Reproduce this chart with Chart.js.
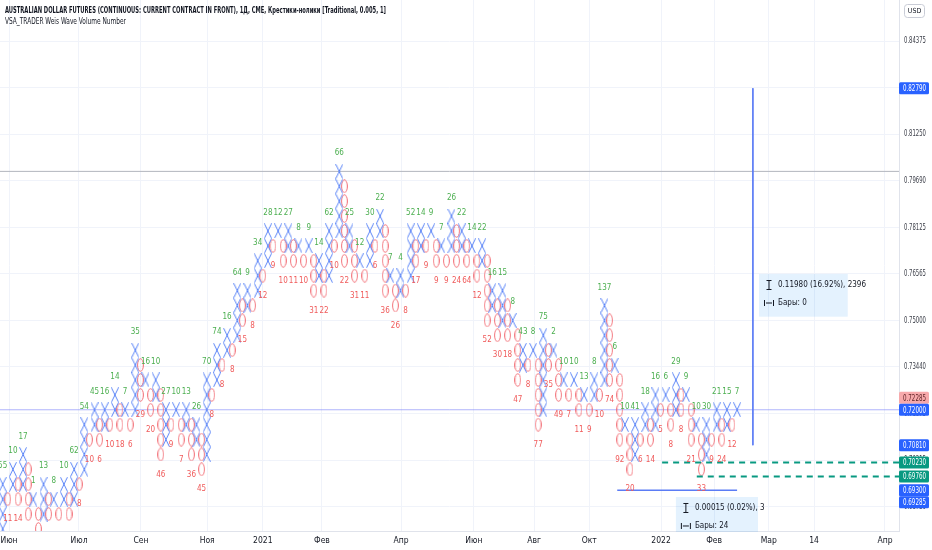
<!DOCTYPE html>
<html>
<head>
<meta charset="utf-8">
<script src="https://cdn.jsdelivr.net/npm/chart.js@4.4.1/dist/chart.umd.min.js"></script>
<style>
  html, body { margin: 0; padding: 0; background: #fff; }
  #wrap { width: 932px; height: 550px; position: relative; }
</style>
</head>
<body>
<div id="wrap"><canvas id="pnf" width="932" height="550"></canvas></div>
<script>
// POINT & FIGURE DATA (box = 0.005, reversal 1)
const BOX = 0.005;
const FIRST_START = 134; // first X column rises from below the visible range
// column extremes in boxes: X tops / O bottoms, alternating, starting with X
const COLUMN_EXTREMES = [
  139, 138, 140, 138, 141, 137, 138, 136, 139, 137,
  138, 137, 139, 137, 140, 139, 143, 142, 144, 142,
  144, 143, 145, 143, 144, 143, 148, 145, 146, 144,
  146, 141, 144, 143, 144, 142, 144, 141, 143, 140,
  146, 145, 148, 147, 149, 148, 152, 150, 152, 151,
  154, 153, 156, 155, 156, 154, 156, 154, 155, 154,
  155, 152, 154, 152, 156, 155, 160, 154, 156, 153,
  154, 153, 156, 155, 157, 152, 153, 151, 153, 152,
  156, 154, 156, 155, 156, 154, 155, 154, 157, 154,
  156, 154, 155, 153, 155, 150, 152, 149, 152, 149,
  150, 146, 148, 147, 148, 143, 149, 147, 148, 145,
  146, 145, 146, 144, 145, 144, 146, 145, 151, 146,
  147, 142, 143, 140, 143, 142, 144, 142, 145, 144,
  145, 143, 146, 144, 145, 142, 143, 140, 143, 142,
  144, 142, 144, 143, 144
];
// Weis wave volume numbers per column (null = below the visible range)
const COLUMN_VOLUMES = [
  55, 11, 10, 14, 17, null, 1, null, 13, null,
  8, null, 10, null, 62, 8, 54, 10, 45, 6,
  16, 10, 14, 18, 7, 6, 35, 29, 16, 20,
  10, 46, 27, 9, 10, 7, 13, 36, 26, 45,
  70, 8, 74, 8, 16, 8, 64, 15, 9, 8,
  34, 12, 28, 9, 12, 10, 27, 11, 8, 10,
  9, 31, 14, 22, 62, 10, 66, 22, 25, 31,
  12, 11, 30, 6, 22, 36, 7, 26, 4, 8,
  52, 17, 14, 9, 9, 9, 7, 9, 26, 24,
  22, 64, 14, 12, 22, 52, 16, 30, 15, 18,
  8, 47, 43, 8, 8, 77, 75, 35, 2, 49,
  10, 7, 10, 11, 13, 9, 8, 10, 137, 74,
  6, 92, 10, 20, 41, 6, 18, 14, 16, 5,
  6, 8, 29, 8, 9, 21, 10, 33, 30, 9,
  21, 24, 15, 12, 7
];
// time axis (positions in column units)
const TIME_TICKS = [1.24, 14.96, 27.1, 40.1, 51.0, 62.6, 78.1, 92.4, 104.2, 115.0, 129.1, 139.5, 150.2, 159.1, 173.0];
const TIME_LABELS = ["Июн", "Июл", "Сен", "Ноя", "2021", "Фев", "Апр", "Июн", "Авг", "Окт", "2022", "Фев", "Мар", "14", "Апр"];
// price axis
const PRICE_TICKS = [0.84375, 0.828125, 0.8125, 0.796875, 0.78125, 0.765625, 0.75, 0.734375, 0.71875, 0.703125, 0.6875];
const BADGE_VALUES = [0.8279, 0.72285, 0.72, 0.7081, 0.7023, 0.6976, 0.693, 0.69285];
const BADGE_KINDS = ["blue", "pink", "blue", "blue", "green", "green", "blue", "blue"];
const BADGE_FIXED = [true, false, true, true, true, true, true, false];
// drawings
const LAST_PRICE = 0.72;
const HLINE_PRICE = 0.80;
const GREEN_LEVELS = [0.7023, 0.6976];
const GREEN_STARTS = [129.3, 136.1];
const MEASURE_V = { col: 147.1, from: 0.8279, to: 0.7081 };
const MEASURE_H = { from: 120.5, to: 144.0, price: 0.693 };
const MEASURE_BOXES = [
  { x0: 148.3, x1: 165.7, p0: 0.76556, p1: 0.75124, lines: ["0.11980 (16.92%), 2396", "Бары: 0"] },
  { x0: 132.0, x1: 148.1, p0: 0.69073, p1: 0.67898, lines: ["0.00015 (0.02%), 3", "Бары: 24"] }
];

const FONT = "'Liberation Sans Narrow', 'DejaVu Sans Condensed', Roboto, sans-serif";
const X_COLOR = "#5a84f7";
const O_COLOR = "#f26c74";

// BUILD BOXES FROM COLUMNS
const xBoxes = [];
const oBoxes = [];
COLUMN_EXTREMES.forEach((ext, i) => {
  if (i % 2 === 0) {
    let start = i === 0 ? FIRST_START : COLUMN_EXTREMES[i - 1] + 1;
    for (let n = start; n <= ext; n++) xBoxes.push({ x: i, y: n * BOX });
  } else {
    for (let n = COLUMN_EXTREMES[i - 1] - 1; n >= ext; n--) oBoxes.push({ x: i, y: n * BOX });
  }
});

// GLYPHS
function makeGlyph(kind) {
  let c = document.createElement("canvas");
  c.width = kind === "x" ? 8 : 7;
  c.height = kind === "x" ? 15 : 14;
  let g = c.getContext("2d");
  g.lineWidth = 1;
  if (kind === "x") {
    g.strokeStyle = X_COLOR;
    g.beginPath();
    g.moveTo(0.5, 0.3); g.lineTo(c.width - 0.5, c.height - 0.3);
    g.moveTo(c.width - 0.5, 0.3); g.lineTo(0.5, c.height - 0.3);
    g.stroke();
  } else {
    g.strokeStyle = O_COLOR;
    g.beginPath();
    g.ellipse(c.width / 2, c.height / 2, c.width / 2 - 0.6, c.height / 2 - 0.7, 0, 0, Math.PI * 2);
    g.stroke();
  }
  return c;
}
const xGlyph = makeGlyph("x");
const oGlyph = makeGlyph("o");

function fmtPrice(v) {
  return (Math.round(v / 0.00005) * 0.00005).toFixed(5);
}

function fitText(ctx, text, x, y, maxW) {
  const w = ctx.measureText(text).width;
  ctx.save();
  ctx.translate(x, y);
  if (w > maxW) ctx.scale(maxW / w, 1);
  ctx.fillText(text, 0, 0);
  ctx.restore();
}

function roundRect(ctx, x, y, w, h, r) {
  ctx.beginPath();
  ctx.moveTo(x + r, y);
  ctx.arcTo(x + w, y, x + w, y + h, r);
  ctx.arcTo(x + w, y + h, x, y + h, r);
  ctx.arcTo(x, y + h, x, y, r);
  ctx.arcTo(x, y, x + w, y, r);
  ctx.closePath();
}

// LABELS ABOVE / BELOW COLUMNS
const volumeLabels = {
  id: "volumeLabels",
  afterDatasetsDraw(chart) {
    const { ctx, chartArea: a, scales } = chart;
    ctx.save();
    ctx.beginPath();
    ctx.rect(a.left, a.top, a.right - a.left, a.bottom - a.top);
    ctx.clip();
    ctx.font = "8px " + FONT;
    ctx.textAlign = "center";
    ctx.textBaseline = "middle";
    COLUMN_EXTREMES.forEach((ext, i) => {
      const v = COLUMN_VOLUMES[i];
      if (v === null) return;
      const x = scales.x.getPixelForValue(i);
      const y = scales.y.getPixelForValue(ext * BOX);
      if (i % 2 === 0) {
        ctx.fillStyle = "#4caf50";
        ctx.fillText(String(v), x, y - 18);
      } else {
        ctx.fillStyle = "#f05a5a";
        ctx.fillText(String(v), x, y + 20);
      }
    });
    ctx.restore();
  },
};

// OVERLAYS: axis labels, legend text, measure boxes, price badges
const overlays = {
  id: "overlays",
  afterDraw(chart) {
    const { ctx, chartArea: a, scales } = chart;
    ctx.save();
    ctx.textBaseline = "middle";

    // time labels
    ctx.fillStyle = "#131722";
    ctx.textAlign = "center";
    ctx.font = "8.5px " + FONT;
    scales.x.ticks.forEach((t) => {
      const k = TIME_TICKS.indexOf(t.value);
      if (k >= 0) ctx.fillText(TIME_LABELS[k], scales.x.getPixelForValue(t.value), a.bottom + 9.5);
    });
    // price labels
    ctx.fillStyle = "#3b3e48";
    ctx.textAlign = "left";
    ctx.font = "9px " + FONT;
    scales.y.ticks.forEach((t) => {
      fitText(ctx, fmtPrice(t.value), a.right + 5, scales.y.getPixelForValue(t.value), 22);
    });

    // legend
    ctx.fillStyle = "#131722";
    ctx.font = "bold 9.5px " + FONT;
    fitText(ctx, "AUSTRALIAN DOLLAR FUTURES (CONTINUOUS: CURRENT CONTRACT IN FRONT), 1Д, CME, Крестики-нолики [Traditional, 0.005, 1]", 5, 11, 381);
    ctx.font = "9px " + FONT;
    fitText(ctx, "VSA_TRADER Weis Wave Volume Number", 5, 22, 121);

    // measure boxes
    MEASURE_BOXES.forEach((b) => {
      const x0 = scales.x.getPixelForValue(b.x0), x1 = scales.x.getPixelForValue(b.x1);
      const y0 = scales.y.getPixelForValue(b.p0), y1 = scales.y.getPixelForValue(b.p1);
      ctx.fillStyle = "rgba(33,150,243,0.12)";
      ctx.fillRect(x0, y0, x1 - x0, y1 - y0);
      const ix = x0 + 10, ly1 = y0 + 11, ly2 = y0 + 29;
      ctx.strokeStyle = "#131722";
      ctx.lineWidth = 1;
      ctx.beginPath();
      ctx.moveTo(ix, ly1 - 4); ctx.lineTo(ix, ly1 + 4);
      ctx.moveTo(ix - 2.5, ly1 - 4.5); ctx.lineTo(ix + 2.5, ly1 - 4.5);
      ctx.moveTo(ix - 2.5, ly1 + 4.5); ctx.lineTo(ix + 2.5, ly1 + 4.5);
      ctx.moveTo(ix - 4.5, ly2 - 3); ctx.lineTo(ix - 4.5, ly2 + 3);
      ctx.moveTo(ix + 4.5, ly2 - 3); ctx.lineTo(ix + 4.5, ly2 + 3);
      ctx.moveTo(ix - 3, ly2); ctx.lineTo(ix + 3, ly2);
      ctx.stroke();
      ctx.fillStyle = "#131722";
      ctx.font = "8px " + FONT;
      ctx.fillText(b.lines[0], ix + 9, ly1);
      ctx.fillText(b.lines[1], ix + 9, ly2);
    });

    // USD badge
    ctx.strokeStyle = "#c9ccd6";
    ctx.lineWidth = 1;
    roundRect(ctx, 904.5, 4.5, 20, 13, 3);
    ctx.stroke();
    ctx.fillStyle = "#131722";
    ctx.textAlign = "center";
    ctx.font = "7px " + FONT;
    ctx.fillText("USD", 914.5, 11.5);

    // price badges; the movable ones step aside when they overlap a fixed one
    const items = BADGE_VALUES.map((v, i) => ({ v, kind: BADGE_KINDS[i], fixed: BADGE_FIXED[i], y: scales.y.getPixelForValue(v) }));
    items.sort((p, q) => p.y - q.y);
    for (let i = 1; i < items.length; i++) {
      const up = items[i - 1], dn = items[i];
      if (dn.y - up.y < 12) {
        if (!up.fixed) up.y = dn.y - 12;
        else dn.y = up.y + 12;
      }
    }
    const bg = { blue: "#2962ff", pink: "#f7a9ab", green: "#089981" };
    const fg = { blue: "#ffffff", pink: "#5b1f22", green: "#ffffff" };
    ctx.font = "9px " + FONT;
    ctx.textAlign = "left";
    items.forEach((it) => {
      ctx.fillStyle = bg[it.kind];
      roundRect(ctx, a.right, it.y - 6, 30, 12, 1.5);
      ctx.fill();
      ctx.fillStyle = fg[it.kind];
      fitText(ctx, fmtPrice(it.v), a.right + 4, it.y + 0.5, 23);
    });
    ctx.restore();
  },
};

function hLine(price, from, to, color, dash, width, order) {
  return {
    type: "line",
    data: [{ x: from, y: price }, { x: to, y: price }],
    borderColor: color,
    borderWidth: width,
    borderDash: dash,
    pointRadius: 0,
    showLine: true,
    order: order,
  };
}

const X_MIN = -0.53;
const X_MAX = 175.75;
const Y_MIN = 0.67932;
const Y_MAX = 0.85751;

let ctx = document.getElementById("pnf").getContext("2d");
let pnfChart = new Chart(ctx, {
  type: "scatter",
  data: {
    datasets: [
      hLine(HLINE_PRICE, X_MIN, X_MAX, "#b2b5be", [], 1, 20),
      hLine(LAST_PRICE, X_MIN, X_MAX, "rgba(110,118,250,0.55)", [], 1, 20),
      {
        label: "O",
        data: oBoxes,
        pointStyle: oGlyph,
        pointRadius: 7,
        clip: 0,
        order: 5,
      },
      {
        label: "X",
        data: xBoxes,
        pointStyle: xGlyph,
        pointRadius: 7,
        clip: 0,
        order: 4,
      },
      hLine(GREEN_LEVELS[0], GREEN_STARTS[0], X_MAX, "#089981", [6, 5], 2, 1),
      hLine(GREEN_LEVELS[1], GREEN_STARTS[1], X_MAX, "#089981", [6, 5], 2, 1),
      hLine(MEASURE_H.price, MEASURE_H.from, MEASURE_H.to, "#5b7cf5", [], 1.5, 1),
      {
        type: "line",
        data: [{ x: MEASURE_V.col, y: MEASURE_V.from }, { x: MEASURE_V.col, y: MEASURE_V.to }],
        borderColor: "#5b7cf5",
        borderWidth: 1,
        pointRadius: 0,
        showLine: true,
        order: 1,
      },
    ],
  },
  options: {
    responsive: false,
    animation: false,
    devicePixelRatio: 1,
    layout: { padding: 0, autoPadding: false },
    plugins: { legend: { display: false }, tooltip: { enabled: false } },
    scales: {
      x: {
        type: "linear",
        min: X_MIN,
        max: X_MAX,
        afterBuildTicks: (axis) => {
          axis.ticks = TIME_TICKS.map((v) => ({ value: v }));
        },
        afterFit: (axis) => {
          axis.height = 19;
        },
        ticks: { display: false },
        grid: { color: "#f0f3fa", drawTicks: false },
        border: { color: "#e0e3eb" },
      },
      y: {
        position: "right",
        min: Y_MIN,
        max: Y_MAX,
        afterBuildTicks: (axis) => {
          axis.ticks = PRICE_TICKS.map((v) => ({ value: v }));
        },
        afterFit: (axis) => {
          axis.width = 33;
        },
        ticks: { display: false },
        grid: { color: "#f0f3fa", drawTicks: false },
        border: { color: "#e0e3eb" },
      },
    },
  },
  plugins: [volumeLabels, overlays],
});
</script>
</body>
</html>
